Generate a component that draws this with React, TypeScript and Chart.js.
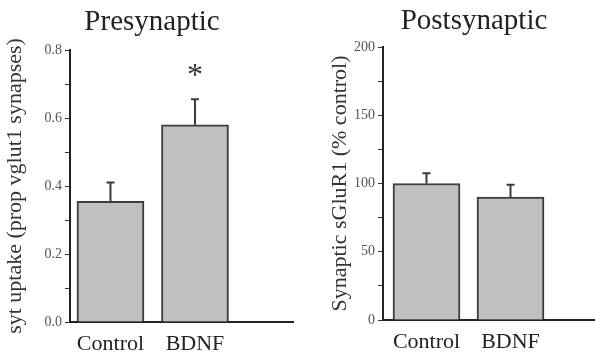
import React, { useEffect, useRef } from "react";
import { Chart, registerables } from "chart.js";

Chart.register(...registerables);

const categories = ["Control", "BDNF"];
const preMeans = [0.355, 0.58];
const preErrors = [0.055, 0.075];
const postMeans = [100, 90];
const postErrors = [7.5, 9];
const preStars = ["", "*"];
const postStars = ["", ""];

const SERIF = "'Liberation Serif', 'Times New Roman', serif";

type PanelCfg = {
  width: number;
  title: string;
  titleX: number;
  titleY: number;
  yTitle: string;
  yMax: number;
  yStep: number;
  yLabelEvery: number;
  decimals: number;
  means: number[];
  errors: number[];
  stars: string[];
  starValue: number;
  xMin: number;
  xMax: number;
  padTop: number;
  padRight: number;
  yWidth: number;
  xHeight: number;
  yTitlePad: number;
};

function Panel({ cfg }: { cfg: PanelCfg }) {
  const ref = useRef<HTMLCanvasElement | null>(null);
  useEffect(() => {
    if (!ref.current) return;
    const deco = {
      id: "deco",
      afterDatasetsDraw(chart: any) {
        const ctx = chart.ctx;
        const xs = chart.scales.x;
        const ys = chart.scales.y;
        ctx.save();
        ctx.strokeStyle = "#3a3a3a";
        ctx.lineWidth = 2;
        cfg.means.forEach((m, i) => {
          const px = xs.getPixelForValue(i);
          const y0 = ys.getPixelForValue(m);
          const y1 = ys.getPixelForValue(m + cfg.errors[i]);
          ctx.beginPath();
          ctx.moveTo(px, y0);
          ctx.lineTo(px, y1);
          ctx.moveTo(px - 4, y1);
          ctx.lineTo(px + 4, y1);
          ctx.stroke();
          if (cfg.stars[i]) {
            ctx.fillStyle = "#333";
            ctx.font = `32px ${SERIF}`;
            ctx.textAlign = "center";
            ctx.textBaseline = "middle";
            ctx.fillText(cfg.stars[i], px, ys.getPixelForValue(cfg.starValue) + 6);
          }
        });
        ctx.fillStyle = "#222";
        ctx.font = `29px ${SERIF}`;
        ctx.textAlign = "center";
        ctx.textBaseline = "alphabetic";
        ctx.fillText(cfg.title, cfg.titleX, cfg.titleY);
        ctx.restore();
      },
    };
    const chart = new Chart(ref.current, {
      type: "bar",
      data: {
        datasets: [
          {
            data: cfg.means.map((m, i) => ({ x: i, y: m })),
            backgroundColor: "#c0c0c0",
            borderColor: "#3c3c3c",
            borderWidth: 2,
            barThickness: 67,
          } as any,
        ],
      },
      options: {
        responsive: false,
        animation: false,
        devicePixelRatio: 1,
        layout: { padding: { top: cfg.padTop, left: 0, right: cfg.padRight, bottom: 0 } },
        plugins: { legend: { display: false }, tooltip: { enabled: false }, title: { display: false } },
        scales: {
          x: {
            type: "linear",
            offset: false,
            min: cfg.xMin,
            max: cfg.xMax,
            afterBuildTicks: (scale: any) => {
              scale.ticks = categories.map((_, i) => ({ value: i }));
            },
            afterFit: (scale: any) => {
              scale.height = cfg.xHeight;
            },
            grid: { display: false, offset: false },
            border: { display: true, color: "#222", width: 2 },
            ticks: {
              color: "#222",
              font: { family: SERIF, size: 22 },
              padding: 1,
              callback: (v: any) => categories[Math.round(Number(v))] ?? "",
              maxRotation: 0,
              autoSkip: false,
            },
          },
          y: {
            min: 0,
            max: cfg.yMax,
            afterFit: (scale: any) => {
              scale.width = cfg.yWidth;
            },
            grid: {
              display: true,
              drawOnChartArea: false,
              drawTicks: true,
              tickLength: 5,
              color: "#333",
              lineWidth: 1,
            },
            border: { display: true, color: "#222", width: 2 },
            ticks: {
              stepSize: cfg.yStep,
              color: "#555",
              font: { family: SERIF, size: 14 },
              padding: 3,
              autoSkip: false,
              callback: (v: any) => {
                const n = Number(v);
                const k = Math.round(n / cfg.yStep);
                return k % cfg.yLabelEvery === 0 ? n.toFixed(cfg.decimals) : "";
              },
            },
            title: {
              display: true,
              text: cfg.yTitle,
              color: "#333",
              font: { family: SERIF, size: 22 },
              padding: { top: cfg.yTitlePad, bottom: 0 },
            },
          },
        },
      } as any,
      plugins: [deco],
    });
    return () => chart.destroy();
  }, []);
  return <canvas ref={ref} width={cfg.width} height={358} style={{ display: "block", width: cfg.width, height: 358 }} />;
}

const left: PanelCfg = {
  width: 300,
  title: "Presynaptic",
  titleX: 152,
  titleY: 30,
  yTitle: "syt uptake (prop vglut1 synapses)",
  yMax: 0.8,
  yStep: 0.1,
  yLabelEvery: 2,
  decimals: 1,
  means: preMeans,
  errors: preErrors,
  stars: preStars,
  starValue: 0.74,
  xMin: -0.479,
  xMax: 2.16,
  padTop: 50,
  padRight: 7,
  yWidth: 70,
  xHeight: 36,
  yTitlePad: 2,
};

const right: PanelCfg = {
  width: 295,
  title: "Postsynaptic",
  titleX: 174,
  titleY: 29,
  yTitle: "Synaptic sGluR1 (% control)",
  yMax: 200,
  yStep: 25,
  yLabelEvery: 2,
  decimals: 0,
  means: postMeans,
  errors: postErrors,
  stars: postStars,
  starValue: 0,
  xMin: -0.518,
  xMax: 2.006,
  padTop: 47,
  padRight: 0,
  yWidth: 83,
  xHeight: 38,
  yTitlePad: 27,
};

export default function App() {
  return (
    <div style={{ position: "fixed", left: 0, top: 0, width: 595, height: 358, background: "#fff", display: "flex" }}>
      <Panel cfg={left} />
      <Panel cfg={right} />
    </div>
  );
}
